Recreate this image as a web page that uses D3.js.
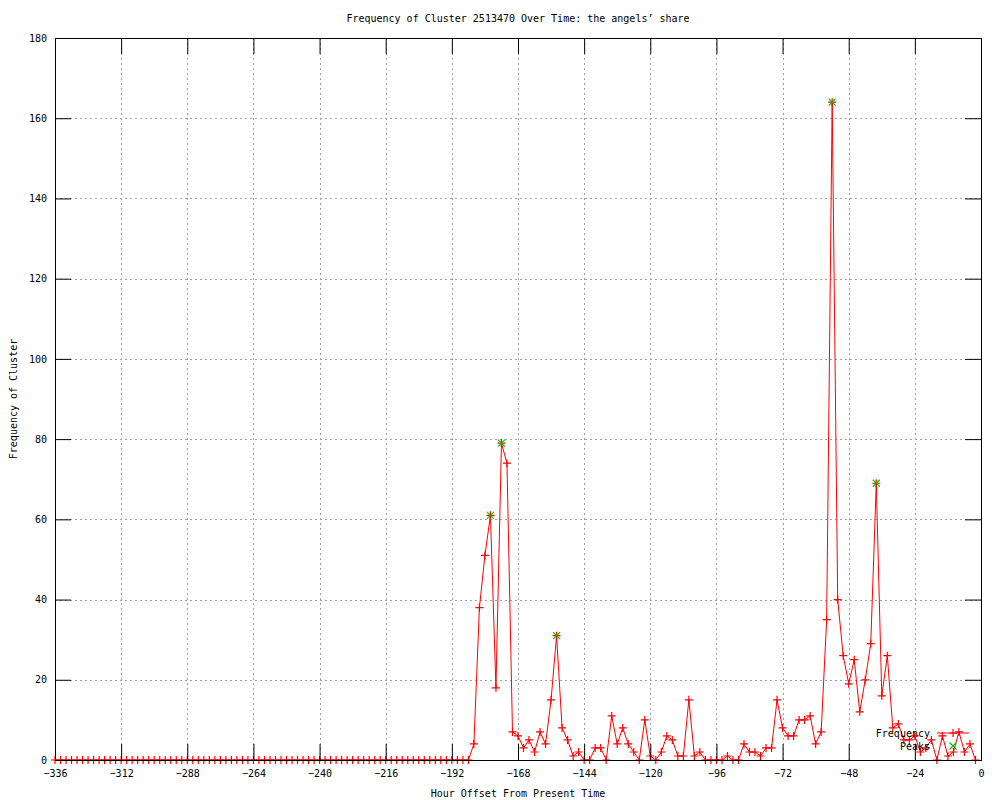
<!DOCTYPE html>
<html>
<head>
<meta charset="utf-8">
<script src="https://cdn.jsdelivr.net/npm/d3@7"></script>
<style>
  body { margin: 0; background: #fff; }
  text { font-family: "DejaVu Sans Mono", monospace; font-size: 10px; fill: #000; }
</style>
</head>
<body>
<svg id="chart" width="1000" height="800"></svg>
<script>
// ---- data ----
const titleText = "Frequency of Cluster 2513470 Over Time: the angels\u2019 share";
const xLabel = "Hour Offset From Present Time";
const yLabel = "Frequency of Cluster";
const xTicks = [-336, -312, -288, -264, -240, -216, -192, -168, -144, -120, -96, -72, -48, -24, 0];
const yTicks = [0, 20, 40, 60, 80, 100, 120, 140, 160, 180];
// hours from -336 to -2, every 2 hours
const hours = d3.range(-336, 0, 2);
const frequency = [
  0,0,0,0,0,0,0,0,0,0, 0,0,0,0,0,0,0,0,0,0,
  0,0,0,0,0,0,0,0,0,0, 0,0,0,0,0,0,0,0,0,0,
  0,0,0,0,0,0,0,0,0,0, 0,0,0,0,0,0,0,0,0,0,
  0,0,0,0,0,0,0,0,0,0, 0,0,0,0,0,0,
  4, 38, 51, 61, 18, 79, 74, 7, 6, 3,
  5, 2, 7, 4, 15, 31, 8, 5, 1, 2,
  0, 0, 3, 3, 0, 11, 4, 8, 4, 2,
  0, 10, 1, 0, 2, 6, 5, 1, 1, 15,
  1, 2, 0, 0, 0, 0, 1, 0, 0, 4,
  2, 2, 1, 3, 3, 15, 8, 6, 6, 10,
  10, 11, 4, 7, 35, 164, 40, 26, 19, 25,
  12, 20, 29, 69, 16, 26, 8, 9, 5, 5,
  6, 2, 3, 5, 0, 6, 1, 2, 7, 2,
  4, 0
];
const peakHours = [-178, -174, -154, -54, -38];
const peakValues = [61, 79, 31, 164, 69];
const seriesNames = ["Frequency", "Peaks"];

// ---- layout ----
const svg = d3.select("#chart");
const L = 55, R = 981, T = 38, B = 760;
const x = d3.scaleLinear().domain([-336, 0]).range([L, R]);
const y = d3.scaleLinear().domain([0, 180]).range([B, T]);
const red = "#ff0000", green = "#00c000";
const tickLen = 16;

// grid
const grid = svg.append("g").attr("stroke", "#a0a0a0").attr("stroke-width", 1).attr("stroke-dasharray", "2,3");
xTicks.filter(t => t !== -336 && t !== 0).forEach(t => {
  grid.append("line").attr("x1", Math.round(x(t)) + 0.5).attr("x2", Math.round(x(t)) + 0.5).attr("y1", T).attr("y2", B);
});
yTicks.filter(t => t !== 0 && t !== 180).forEach(t => {
  grid.append("line").attr("y1", Math.round(y(t)) + 0.5).attr("y2", Math.round(y(t)) + 0.5).attr("x1", L).attr("x2", R);
});

// data line
const data = hours.map((h, i) => ({h, v: frequency[i]}));
svg.append("path")
  .datum(data)
  .attr("fill", "none")
  .attr("stroke", red)
  .attr("stroke-width", 1)
  .attr("d", d3.line().x(d => x(d.h)).y(d => y(d.v)));

function plus(g, cx, cy, color) {
  const s = 4;
  g.append("path").attr("d", `M${cx - s},${cy}H${cx + s}M${cx},${cy - s}V${cy + s}`)
    .attr("stroke", color).attr("stroke-width", 1.2).attr("fill", "none");
}
function cross(g, cx, cy, color) {
  const s = 3.5;
  g.append("path").attr("d", `M${cx - s},${cy - s}L${cx + s},${cy + s}M${cx - s},${cy + s}L${cx + s},${cy - s}`)
    .attr("stroke", color).attr("stroke-width", 1.2).attr("fill", "none");
}
const pts = svg.append("g");
data.forEach(d => plus(pts, x(d.h), y(d.v), red));
const pk = svg.append("g");
peakHours.forEach((h, i) => cross(pk, x(h), y(peakValues[i]), green));

// axes with d3 (ticks inward), plus mirror
const xAxisB = d3.axisBottom(x).tickValues(xTicks).tickSize(-tickLen).tickPadding(tickLen + 5).tickFormat(d3.format("d"));
const xAxisT = d3.axisTop(x).tickValues(xTicks).tickSize(-tickLen).tickFormat("");
const yAxisL = d3.axisLeft(y).tickValues(yTicks).tickSize(-tickLen).tickPadding(tickLen + 7).tickFormat(d3.format("d"));
const yAxisR = d3.axisRight(y).tickValues(yTicks).tickSize(-tickLen).tickFormat("");

function styleAxis(g) {
  g.select(".domain").remove();
  g.selectAll("line").attr("stroke", "#000").attr("stroke-width", 1);
  g.selectAll("text").attr("font-family", "DejaVu Sans Mono").attr("font-size", 10).attr("fill", "#000");
}
svg.append("g").attr("transform", `translate(0,${B})`).call(xAxisB).call(styleAxis)
  .selectAll("text").attr("dy", "0.35em").attr("y", 13);
svg.append("g").attr("transform", `translate(0,${T})`).call(xAxisT).call(styleAxis);
svg.append("g").attr("transform", `translate(${L},0)`).call(yAxisL).call(styleAxis)
  .selectAll("text").attr("x", -8);
svg.append("g").attr("transform", `translate(${R},0)`).call(yAxisR).call(styleAxis);

// border
svg.append("rect").attr("x", L + 0.5).attr("y", T + 0.5).attr("width", R - L).attr("height", B - T)
  .attr("fill", "none").attr("stroke", "#000").attr("stroke-width", 1);

// titles
svg.append("text").attr("x", (L + R) / 2).attr("y", 22).attr("text-anchor", "middle").text(titleText);
svg.append("text").attr("x", (L + R) / 2).attr("y", 797).attr("text-anchor", "middle").text(xLabel);
svg.append("text").attr("transform", `translate(17,${(T + B) / 2}) rotate(-90)`).attr("text-anchor", "middle").text(yLabel);

// legend
const lg = svg.append("g");
lg.append("text").attr("x", 930).attr("y", 736.5).attr("text-anchor", "end").text(seriesNames[0]);
lg.append("line").attr("x1", 937).attr("x2", 969).attr("y1", 733).attr("y2", 733).attr("stroke", red).attr("stroke-width", 1);
plus(lg, 953, 733, red);
lg.append("text").attr("x", 930).attr("y", 749.5).attr("text-anchor", "end").text(seriesNames[1]);
cross(lg, 953, 746, green);
</script>
</body>
</html>
